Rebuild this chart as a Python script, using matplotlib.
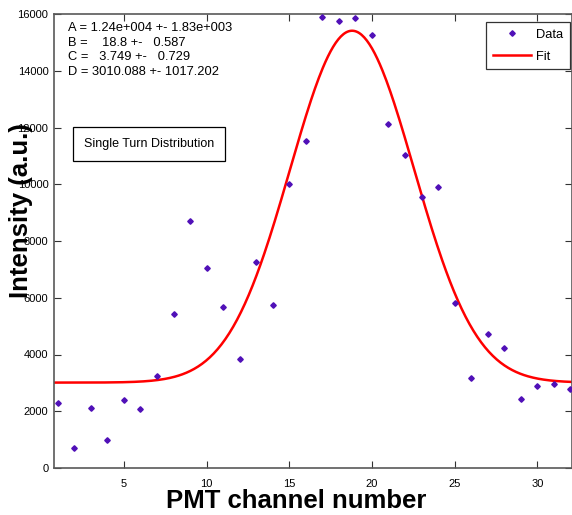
import numpy as np
import matplotlib
matplotlib.use("Agg")
import matplotlib.pyplot as plt

plt.rcParams['font.family'] = ['Liberation Sans', 'DejaVu Sans']

# measured data, PMT channel vs intensity
channel = list(range(1, 33))
intensity = [2280, 705, 2125, 987, 2407, 2080, 3230, 5415, 8703, 7036,
             5660, 3830, 7248, 5745, 10007, 11540, 15890, 15750, 15855, 15257,
             12110, 11017, 9548, 9912, 5814, 3171, 4722, 4240, 2443, 2890,
             2970, 2773]

# gaussian fit parameters: A*exp(-(x-B)^2/(2C^2)) + D
A, B, C, D = 1.24e4, 18.8, 3.749, 3010.088
fit_text = ["A = 1.24e+004 +- 1.83e+003",
            "B =    18.8 +-   0.587",
            "C =   3.749 +-   0.729",
            "D = 3010.088 +- 1017.202"]

fig = plt.figure(figsize=(5.72, 5.15), dpi=100)
ax = fig.add_axes([54/572, 47/515, 518/572, 454/515])

xmin, xmax = 0.77, 32.1
xf = np.linspace(xmin, xmax, 400)
yf = A * np.exp(-(xf - B)**2 / (2 * C**2)) + D

ax.plot(channel, intensity, linestyle='none', marker='D', markersize=2.8,
        color='#5010b8', label='Data', zorder=3)
ax.plot(xf, yf, color='red', lw=1.8, label='Fit', zorder=2)

ax.set_xlim(xmin, xmax)
ax.set_ylim(0, 16000)
ax.set_xticks([5, 10, 15, 20, 25, 30])
ax.set_yticks(range(0, 16001, 2000))
ax.tick_params(direction='in', length=5, width=0.8, color='0.2',
               labelsize=8, top=True, right=True)
ax.tick_params(axis='x', pad=8)
ax.tick_params(axis='y', pad=4)
for s in ax.spines.values():
    s.set_color('0.35')
    s.set_linewidth(1.2)

ax.set_xlabel("PMT channel number", fontsize=18.5, fontweight='bold')
ax.set_ylabel("Intensity (a.u.)", fontsize=18.5, fontweight='bold')
ax.xaxis.set_label_coords(0.467, -0.073)
ax.yaxis.set_label_coords(-0.063, 0.568)
ax.xaxis.label.set_va('center')
ax.yaxis.label.set_va('center')

ax.text(68/572, 1 - 22/515, "\n".join(fit_text), transform=fig.transFigure,
        fontsize=9.3, va='top', ha='left', linespacing=1.28)

ax.text(149/572, 1 - 144/515, "Single Turn Distribution", transform=fig.transFigure,
        fontsize=9, ha='center', va='center',
        bbox=dict(boxstyle='square,pad=0.85', fc='white', ec='black', lw=0.9))

leg = ax.legend(loc='upper right', bbox_to_anchor=(570/572, 1 - 22/515),
                bbox_transform=fig.transFigure, fontsize=9.3, frameon=True,
                fancybox=False, edgecolor='black', handlelength=3.0,
                borderaxespad=0, labelspacing=0.8, borderpad=0.5,
                handletextpad=0.4)
leg.get_frame().set_linewidth(0.9)

fig.savefig("out.png", dpi=100)
